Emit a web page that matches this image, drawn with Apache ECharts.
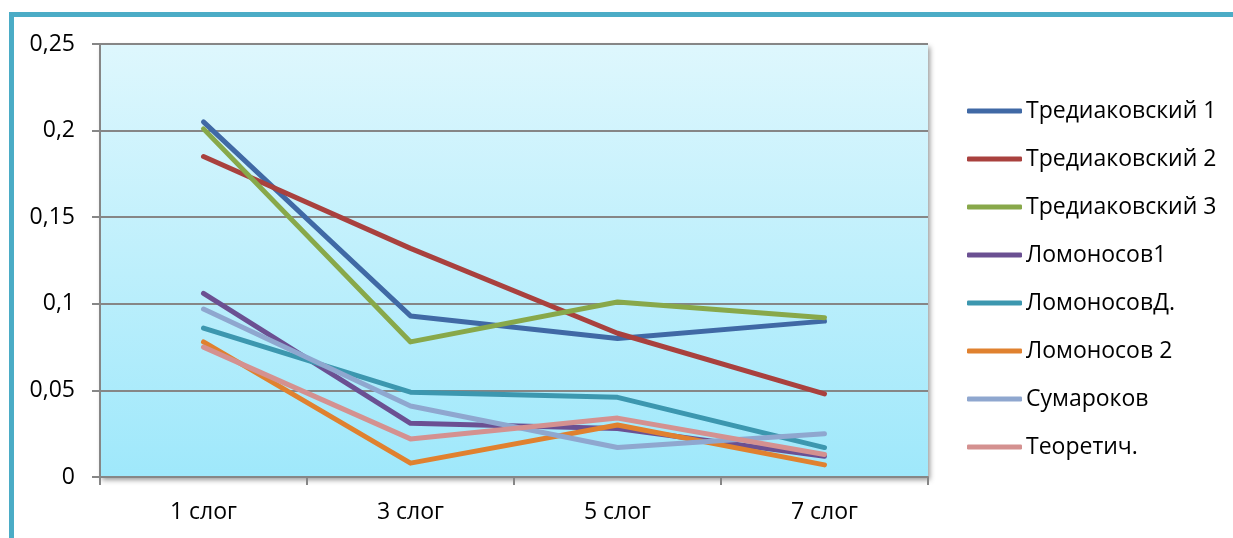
<!DOCTYPE html>
<html>
<head>
<meta charset="utf-8">
<script src="https://cdn.jsdelivr.net/npm/echarts@6/dist/echarts.min.js"></script>
<style>
html,body{margin:0;padding:0;background:#fff;overflow:hidden;}
#frame{position:absolute;left:9px;top:12px;width:1300px;height:600px;border-top:5px solid #4BACC6;border-left:5px solid #4BACC6;}
#chart{position:absolute;left:0;top:0;width:1233px;height:538px;}
</style>
</head>
<body>
<div id="frame"></div>
<div id="chart"></div>
<script>
const categories = ['1 слог', '3 слог', '5 слог', '7 слог'];
const yTicks = [0, 0.05, 0.1, 0.15, 0.2, 0.25];
const seriesNames = ['Тредиаковский 1', 'Тредиаковский 2', 'Тредиаковский 3', 'Ломоносов1', 'ЛомоносовД.', 'Ломоносов 2', 'Сумароков', 'Теоретич.'];
const trediakovsky1 = [0.205, 0.093, 0.080, 0.090];
const trediakovsky2 = [0.185, 0.132, 0.083, 0.048];
const trediakovsky3 = [0.201, 0.078, 0.101, 0.092];
const lomonosov1 = [0.106, 0.031, 0.028, 0.012];
const lomonosovD = [0.086, 0.049, 0.046, 0.017];
const lomonosov2 = [0.078, 0.008, 0.030, 0.007];
const sumarokov = [0.097, 0.041, 0.017, 0.025];
const teoretich = [0.075, 0.022, 0.034, 0.013];
const seriesData = [trediakovsky1, trediakovsky2, trediakovsky3, lomonosov1, lomonosovD, lomonosov2, sumarokov, teoretich];
const colors = ['#4069A5', '#A9413E', '#88A84A', '#6B5092', '#3C97AF', '#E0812F', '#8FA7CF', '#D49190'];

const chart = echarts.init(document.getElementById('chart'), null, {renderer: 'canvas'});
const font = '"Open Sans", "Noto Sans", sans-serif';
chart.setOption({
  animation: false,
  color: colors,
  textStyle: {fontFamily: font},
  grid: {
    left: 100, right: 305, top: 44, bottom: 61,
    show: true,
    borderWidth: 0,
    backgroundColor: new echarts.graphic.LinearGradient(0, 0, 0, 1, [
      {offset: 0, color: '#DEF7FD'},
      {offset: 1, color: '#9FE8FB'}
    ]),
    shadowColor: 'rgba(0,0,0,0.4)',
    shadowBlur: 5,
    shadowOffsetX: 2,
    shadowOffsetY: 3
  },
  legend: {
    orient: 'vertical',
    left: 967,
    top: 99,
    padding: 0,
    icon: 'roundRect',
    itemWidth: 55,
    itemHeight: 5,
    itemGap: 24,
    data: seriesNames,
    textStyle: {fontFamily: font, fontSize: 23, color: '#000', lineHeight: 24, padding: [0, 0, 0, -1]}
  },
  xAxis: {
    type: 'category',
    data: categories,
    boundaryGap: true,
    axisLine: {lineStyle: {color: '#868686', width: 2}},
    axisTick: {show: true, length: 8, inside: false, lineStyle: {color: '#868686', width: 2}},
    axisLabel: {fontFamily: font, fontSize: 23, color: '#000', margin: 24},
    splitLine: {show: false}
  },
  yAxis: {
    type: 'value',
    min: 0, max: 0.25, interval: 0.05,
    axisLine: {show: true, lineStyle: {color: '#868686', width: 2}},
    axisTick: {show: true, length: 8, lineStyle: {color: '#868686', width: 2}},
    axisLabel: {
      fontFamily: font, fontSize: 23, color: '#000', margin: 25,
      formatter: v => {
        const t = yTicks.find(x => Math.abs(x - v) < 1e-9);
        return String(t !== undefined ? t : v).replace('.', ',');
      }
    },
    splitLine: {show: true, lineStyle: {color: '#868686', width: 2}}
  },
  series: seriesNames.map((name, i) => ({
    name: name,
    type: 'line',
    data: seriesData[i],
    symbol: 'none',
    showSymbol: false,
    lineStyle: {width: 5, cap: 'round', join: 'round', color: colors[i]},
    itemStyle: {color: colors[i]}
  }))
});
</script>
</body>
</html>
